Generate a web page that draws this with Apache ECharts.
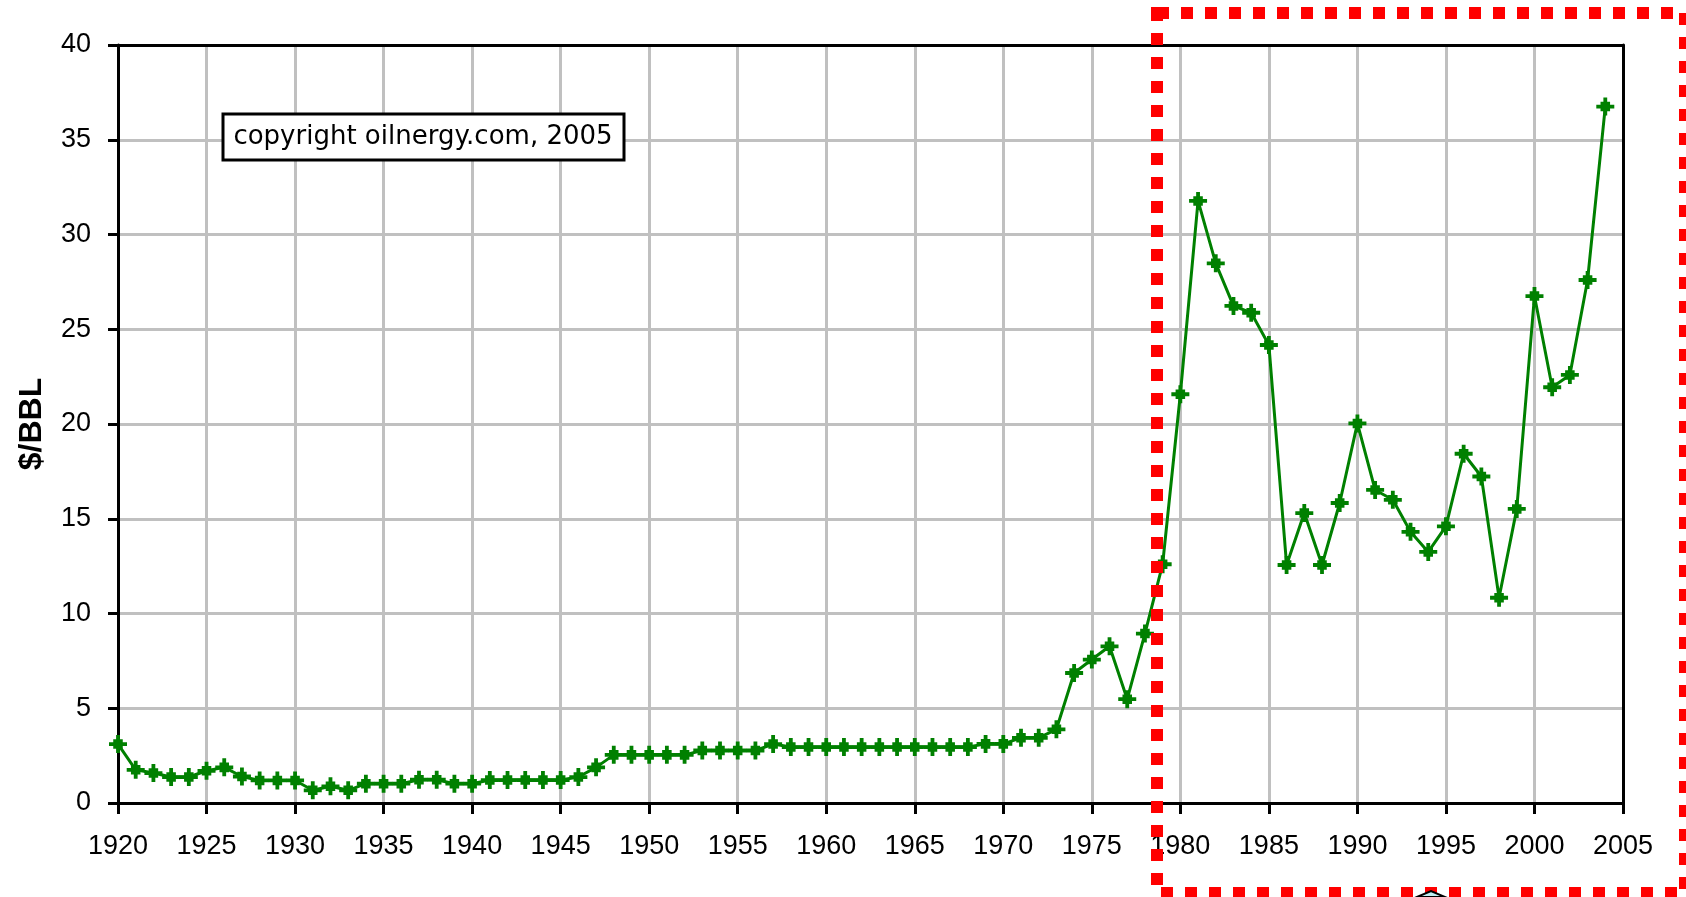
<!DOCTYPE html>
<html>
<head>
<meta charset="utf-8">
<title>Oil price $/BBL 1920-2004</title>
<script src="https://cdn.jsdelivr.net/npm/echarts@6/dist/echarts.min.js"></script>
<style>
  html, body { margin: 0; padding: 0; background: #fff; }
  #main { width: 1686px; height: 897px; }
</style>
</head>
<body>
<div id="main"></div>
<script>
// years on the x axis
const years = [
  1920, 1921, 1922, 1923, 1924, 1925, 1926, 1927, 1928, 1929,
  1930, 1931, 1932, 1933, 1934, 1935, 1936, 1937, 1938, 1939,
  1940, 1941, 1942, 1943, 1944, 1945, 1946, 1947, 1948, 1949,
  1950, 1951, 1952, 1953, 1954, 1955, 1956, 1957, 1958, 1959,
  1960, 1961, 1962, 1963, 1964, 1965, 1966, 1967, 1968, 1969,
  1970, 1971, 1972, 1973, 1974, 1975, 1976, 1977, 1978, 1979,
  1980, 1981, 1982, 1983, 1984, 1985, 1986, 1987, 1988, 1989,
  1990, 1991, 1992, 1993, 1994, 1995, 1996, 1997, 1998, 1999,
  2000, 2001, 2002, 2003, 2004
];

// price in $/BBL
const prices = [
  3.11, 1.75, 1.58, 1.37, 1.37, 1.70, 1.88, 1.40, 1.19, 1.19,
  1.19, 0.67, 0.88, 0.67, 1.02, 1.02, 1.02, 1.23, 1.23, 1.02,
  1.02, 1.21, 1.21, 1.21, 1.21, 1.21, 1.37, 1.88, 2.54, 2.54,
  2.54, 2.54, 2.54, 2.77, 2.77, 2.77, 2.77, 3.11, 2.95, 2.95,
  2.95, 2.95, 2.95, 2.95, 2.95, 2.95, 2.95, 2.95, 2.95, 3.12,
  3.12, 3.44, 3.44, 3.89, 6.86, 7.57, 8.27, 5.48, 8.94, 12.6,
  21.57, 31.77, 28.48, 26.23, 25.87, 24.17, 12.56, 15.3, 12.56, 15.83,
  20.03, 16.52, 16.0, 14.31, 13.25, 14.6, 18.43, 17.23, 10.83, 15.52,
  26.75, 21.94, 22.59, 27.6, 36.75
];

const yTitle = "$/BBL";
const note = "copyright oilnergy.com, 2005";

const labelFont = "'Liberation Sans', Arial, sans-serif";
// plus shaped marker with a fat middle
const plusMark = "path://M-1.8,-8.5 L1.8,-8.5 L1.8,8.5 L-1.8,8.5 Z M-8.5,-1.8 L8.5,-1.8 L8.5,1.8 L-8.5,1.8 Z M-4.5,-4.5 L4.5,-4.5 L4.5,4.5 L-4.5,4.5 Z";

const chart = echarts.init(document.getElementById("main"));

// frame-only axes for the black top and right border
const frameAxis = {
  axisLine: { show: true, onZero: false, lineStyle: { color: "#000", width: 3 } },
  axisTick: { show: false },
  axisLabel: { show: false },
  splitLine: { show: false },
};

let option = {
  backgroundColor: "#fff",
  animation: false,
  grid: {
    left: 118,
    right: 63,
    top: 45,
    bottom: 94,
  },
  xAxis: [
    {
      type: "value",
      min: 1920,
      max: 2005,
      interval: 5,
      axisLine: { show: true, onZero: false, lineStyle: { color: "#000", width: 3 } },
      axisTick: { show: true, length: 11, lineStyle: { color: "#000", width: 3 } },
      axisLabel: {
        margin: 30,
        color: "#000",
        fontSize: 27,
        fontFamily: labelFont,
        formatter: (v) => String(v),
      },
      splitLine: { show: true, lineStyle: { color: "#c0c0c0", width: 3 } },
    },
    Object.assign({ type: "value", min: 1920, max: 2005, position: "top" }, frameAxis),
  ],
  yAxis: [
    {
      type: "value",
      min: 0,
      max: 40,
      interval: 5,
      name: yTitle,
      nameLocation: "middle",
      nameGap: 70,
      nameTextStyle: {
        color: "#000",
        fontSize: 32,
        fontWeight: "bold",
        fontFamily: labelFont,
      },
      axisLine: { show: true, lineStyle: { color: "#000", width: 3 } },
      axisTick: { show: true, length: 10, lineStyle: { color: "#000", width: 3 } },
      axisLabel: {
        margin: 27,
        color: "#000",
        fontSize: 27,
        fontFamily: labelFont,
      },
      splitLine: { show: true, lineStyle: { color: "#c0c0c0", width: 3 } },
    },
    Object.assign({ type: "value", min: 0, max: 40, position: "right" }, frameAxis),
  ],
  series: [
    {
      type: "line",
      data: years.map((y, i) => [y, prices[i]]),
      symbol: plusMark,
      symbolSize: 18,
      showAllSymbol: true,
      lineStyle: { color: "#008000", width: 3 },
      itemStyle: { color: "#008000", borderWidth: 0 },
      z: 5,
    },
  ],
  graphic: [
    {
      // copyright box
      type: "rect",
      z: 20,
      shape: { x: 223, y: 114, width: 401, height: 46 },
      style: { fill: "#fff", stroke: "#000", lineWidth: 3 },
    },
    {
      type: "text",
      z: 21,
      x: 423,
      y: 137,
      style: {
        text: note,
        fill: "#000",
        font: "26px 'DejaVu Sans', sans-serif",
        textAlign: "center",
        textVerticalAlign: "middle",
      },
    },
    {
      // red dotted highlight frame
      type: "rect",
      z: 30,
      shape: { x: 1157, y: 13, width: 528, height: 880 },
      style: { fill: null, stroke: "#ff0000", lineWidth: 12, lineDash: [12, 12] },
    },
    {
      // little pointer tip peeking at the bottom
      type: "polygon",
      z: 31,
      shape: { points: [[1417, 897], [1431, 891], [1445, 897]] },
      style: { fill: "#bfeff2", stroke: "#000", lineWidth: 2 },
    },
  ],
};

chart.setOption(option);
</script>
</body>
</html>
